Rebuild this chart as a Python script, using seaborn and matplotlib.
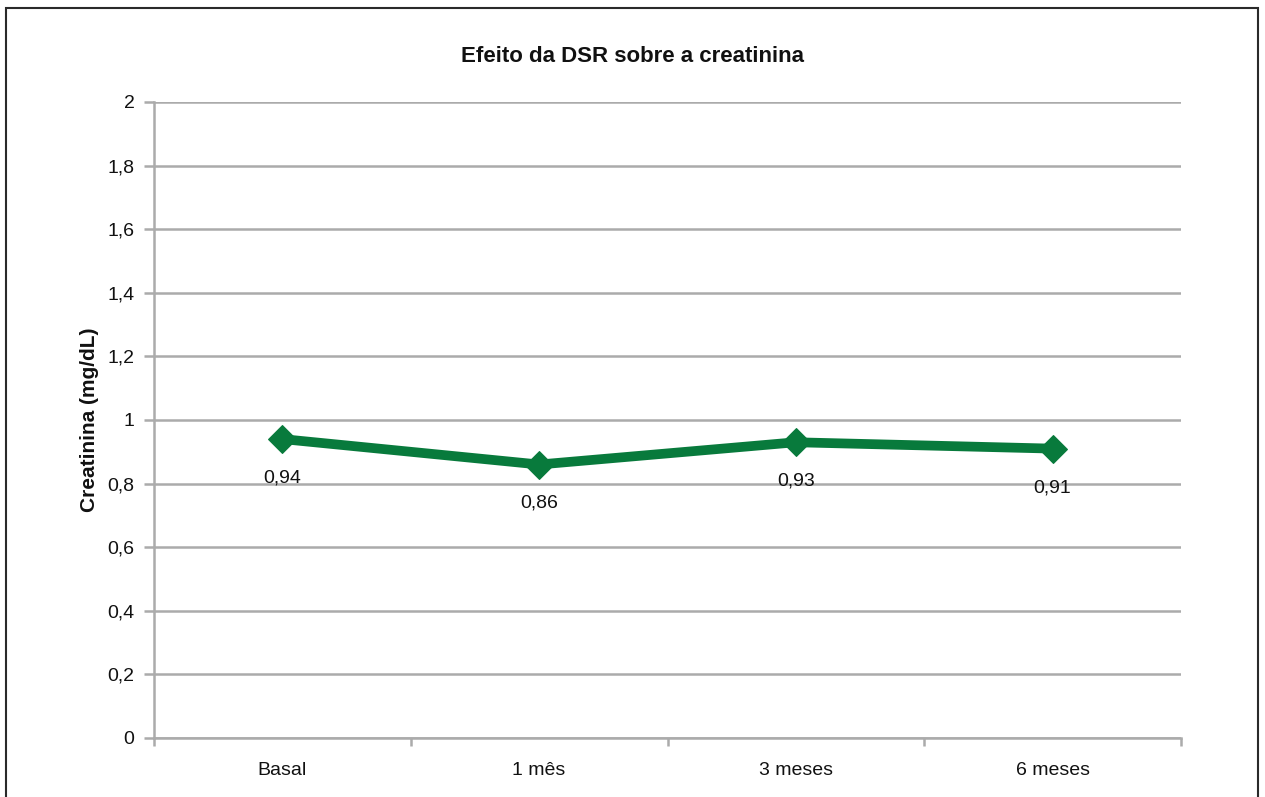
import matplotlib
matplotlib.use("Agg")
import matplotlib.pyplot as plt
from matplotlib.patches import Rectangle
from matplotlib.ticker import FixedLocator, FuncFormatter
import seaborn as sns
import pandas as pd

periods = ["Basal", "1 mês", "3 meses", "6 meses"]
creatinine = [0.94, 0.86, 0.93, 0.91]
y_ticks = [0, 0.2, 0.4, 0.6, 0.8, 1.0, 1.2, 1.4, 1.6, 1.8, 2.0]

sns.set_theme(style="white")
plt.rcParams["font.family"] = ["Liberation Sans Narrow", "Liberation Sans", "DejaVu Sans"]

df = pd.DataFrame({"periodo": periods, "creatinina": creatinine})

fig = plt.figure(figsize=(12.65, 7.97), dpi=100)
ax = fig.add_axes([154 / 1265, 1 - 738 / 797, (1181 - 154) / 1265, (738 - 102) / 797])

green = "#087a3c"
grid_grey = "#ababab"

sns.lineplot(data=df, x="periodo", y="creatinina", ax=ax, color=green,
             linewidth=7, marker="D", markersize=14, markeredgecolor=green,
             sort=False)

ax.set_xlim(-0.5, len(periods) - 0.5)
ax.set_ylim(0, 2)


def axis_fmt(v, _):
    return f"{v:.1f}".rstrip("0").rstrip(".").replace(".", ",")


def value_fmt(v):
    return f"{v:.2f}".replace(".", ",")


ax.yaxis.set_major_locator(FixedLocator(y_ticks))
ax.yaxis.set_major_formatter(FuncFormatter(axis_fmt))
ax.yaxis.grid(True, color=grid_grey, linewidth=1.8)
ax.xaxis.grid(False)

ax.set_xticks(range(len(periods)))
ax.set_xticklabels(periods)
ax.set_xticks([i - 0.5 for i in range(len(periods) + 1)], minor=True)
ax.tick_params(left=True, bottom=True)
ax.tick_params(axis="x", which="major", length=0, pad=17, labelsize=14, colors="#111111")
ax.tick_params(axis="x", which="minor", bottom=True, length=6, width=1.8,
               color=grid_grey, direction="out")
ax.tick_params(axis="y", which="major", left=True, length=7, width=1.8, color=grid_grey,
               direction="out", pad=7, labelsize=14, labelcolor="#111111")

for s in ["top", "right"]:
    ax.spines[s].set_visible(False)
for s in ["left", "bottom"]:
    ax.spines[s].set_color(grid_grey)
    ax.spines[s].set_linewidth(1.8)

ax.set_xlabel("")
ax.set_ylabel("Creatinina (mg/dL)", fontsize=15, fontweight="bold", labelpad=6, color="#111111")

for i, v in enumerate(creatinine):
    ax.annotate(value_fmt(v), (i, v), xytext=(0, -28), textcoords="offset points",
                ha="center", va="center", fontsize=14, color="#111111")

fig.text(0.5, 1 - 56 / 797, "Efeito da DSR sobre a creatinina", ha="center", va="center",
         fontsize=16, fontweight="bold", color="#111111")

fig.patches.append(Rectangle((6 / 1265, -0.01), (1258 - 6) / 1265, 1 - 8 / 797 + 0.01,
                             transform=fig.transFigure, fill=False,
                             edgecolor="#2a2a2a", linewidth=1.5))

fig.savefig("out.png", dpi=100, facecolor="white")
